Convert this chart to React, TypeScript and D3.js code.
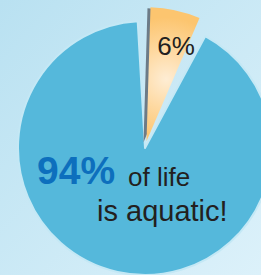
import * as d3 from 'd3';

// share of life by habitat, in percent
const habitats = ['Land', 'Aquatic'];
const shares = [6, 94];
const shareLabels = ['6%', '94%'];
const captionLines = ['of life', 'is aquatic!'];

const width = 261;
const height = 275;
const font = '"Liberation Sans", Arial, Helvetica, sans-serif';

export default function App() {
    const cx = 145;
    const cy = 148;
    const radius = 127;
    const deg = Math.PI / 180;
    const gap = 5 * deg; // cut taken out of the big slice on each side

    const pie = d3.pie<number>()
        .sort(null)
        .startAngle(1.7 * deg)
        .endAngle(1.7 * deg + 2 * Math.PI);
    const arcs = pie(shares);
    const small = arcs[0];
    const big = arcs[1];

    const bigArc = d3.arc<any>()
        .innerRadius(0)
        .outerRadius(radius)
        .startAngle(small.endAngle + gap)
        .endAngle(big.endAngle - gap);

    const smallArc = d3.arc<any>()
        .innerRadius(0)
        .outerRadius(radius + 7);

    // pull the small slice out along its middle angle
    const mid = (small.startAngle + small.endAngle) / 2;
    const pull = 7;
    const ox = Math.sin(mid) * pull;
    const oy = -Math.cos(mid) * pull;

    // light spot of the warm slice, in the slice's own coordinates
    const glow = d3.arc<any>().innerRadius(radius * 0.5).outerRadius(radius * 0.5).centroid(small);

    return (
        <svg
            width={width}
            height={height}
            style={{ position: 'fixed', left: 0, top: 0, display: 'block' }}
        >
            <defs>
                <linearGradient id="bg" x1="0" y1="0" x2="1" y2="1">
                    <stop offset="0%" stopColor="#b9e1f1" />
                    <stop offset="100%" stopColor="#dcf1fa" />
                </linearGradient>
                <radialGradient
                    id="warm"
                    gradientUnits="userSpaceOnUse"
                    cx={glow[0] + 6}
                    cy={glow[1]}
                    r={62}
                >
                    <stop offset="0%" stopColor="#feedd4" />
                    <stop offset="45%" stopColor="#fedaa4" />
                    <stop offset="100%" stopColor="#fcc56f" />
                </radialGradient>
            </defs>
            <rect width={width} height={height} fill="url(#bg)" />

            <g transform={`translate(${cx},${cy})`}>
                <path
                    d={bigArc(big) ?? ''}
                    fill="#55b8db"
                    stroke="#c4e8f5"
                    strokeWidth={2}
                    strokeLinejoin="round"
                >
                    <title>{habitats[1]}</title>
                </path>
                <g transform={`translate(${ox},${oy})`}>
                    <path
                        d={smallArc(small) ?? ''}
                        transform="translate(-3,1)"
                        fill="#6c7b87"
                    />
                    <path d={smallArc(small) ?? ''} fill="url(#warm)">
                        <title>{habitats[0]}</title>
                    </path>
                </g>
            </g>

            <text
                x={176}
                y={55}
                textAnchor="middle"
                fontFamily={font}
                fontSize={26}
                fill="#231f20"
            >
                {shareLabels[0]}
            </text>

            <text x={37} y={184} fontFamily={font} fontSize={39} fontWeight="bold" fill="#0d6fbd">
                {shareLabels[1]}
            </text>
            <text x={128} y={186} fontFamily={font} fontSize={26} fill="#231f20">
                {captionLines[0]}
            </text>
            <text x={97} y={221} fontFamily={font} fontSize={29} fill="#231f20">
                {captionLines[1]}
            </text>
        </svg>
    );
}
